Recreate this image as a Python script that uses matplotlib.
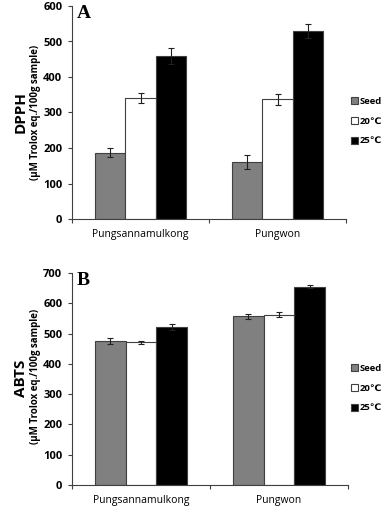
import matplotlib
matplotlib.use("Agg")
import matplotlib.pyplot as plt
from matplotlib.patches import Patch

plt.rcParams['font.family'] = ['Open Sans', 'DejaVu Sans']

categories = ["Pungsannamulkong", "Pungwon"]
series = ["Seed", "20\u2103", "25\u2103"]
colors = ["#808080", "#ffffff", "#000000"]

dpph = {"Seed": [187, 160], "20\u2103": [340, 337], "25\u2103": [460, 530]}
dpph_err = {"Seed": [13, 20], "20\u2103": [14, 15], "25\u2103": [22, 20]}
abts = {"Seed": [475, 557], "20\u2103": [472, 562], "25\u2103": [522, 655]}
abts_err = {"Seed": [11, 9], "20\u2103": [5, 8], "25\u2103": [9, 5]}

W, H = 387, 508
fig = plt.figure(figsize=(W / 100, H / 100), dpi=100)

def ax_rect(l, r, t, b):
    return [l / W, 1 - b / H, (r - l) / W, (b - t) / H]

panels = [
    dict(rect=ax_rect(72, 346, 6, 219), data=dpph, err=dpph_err, ylim=600, step=100,
         letter="A", name="DPPH", name_y=112, sub_y=112, leg_y=121),
    dict(rect=ax_rect(72, 348, 273, 485), data=abts, err=abts_err, ylim=700, step=100,
         letter="B", name="ABTS", name_y=378, sub_y=376, leg_y=388),
]

bw = 0.222
offsets = [-bw, 0, bw]
for p in panels:
    ax = fig.add_axes(p["rect"])
    for i, s in enumerate(series):
        xs = [k + offsets[i] for k in range(len(categories))]
        ax.bar(xs, p["data"][s], width=bw, color=colors[i], edgecolor="#404040",
               linewidth=0.8, yerr=p["err"][s], capsize=2.5,
               error_kw=dict(ecolor="#202020", elinewidth=0.8, capthick=0.8),
               label=s, zorder=2)
    ax.set_xlim(-0.5, 1.5)
    ax.set_ylim(0, p["ylim"])
    ax.set_yticks(range(0, p["ylim"] + 1, p["step"]))
    ax.set_xticks([-0.5, 0.5, 1.5])
    ax.set_xticklabels([])
    ax.tick_params(axis='x', direction='out', length=3, width=0.8, color="#404040")
    ax.tick_params(axis='y', direction='out', length=3, width=0.8, color="#404040",
                   labelsize=8, pad=4)
    for lab in ax.get_yticklabels():
        lab.set_fontweight('bold')
    for k, c in enumerate(categories):
        ax.text(k, -0.075 * p["ylim"], c, ha='center', va='center', fontsize=7.5)
    for sp in ["top", "right"]:
        ax.spines[sp].set_visible(False)
    for sp in ["left", "bottom"]:
        ax.spines[sp].set_color("#404040")
        ax.spines[sp].set_linewidth(0.8)
    ax.text(0.018, 1.005, p["letter"], transform=ax.transAxes, fontsize=14,
            fontweight='bold', family='Liberation Serif', va='top', ha='left')
    fig.text(21 / W, 1 - p["name_y"] / H, p["name"], rotation=90, fontsize=11,
             fontweight='bold', ha='center', va='center')
    fig.text(36 / W, 1 - p["sub_y"] / H, "(\u03bcM Trolox eq./100g sample)", rotation=90,
             fontsize=7, fontweight='bold', ha='center', va='center')
    handles = [Patch(facecolor=colors[i], edgecolor="#404040", linewidth=0.8, label=s)
               for i, s in enumerate(series)]
    leg = fig.legend(handles=handles, loc='center left',
                     bbox_to_anchor=(351 / W, 1 - p["leg_y"] / H),
                     frameon=False, fontsize=6.8, handlelength=0.75, handleheight=0.75,
                     handletextpad=0.15, labelspacing=1.15, borderpad=0, borderaxespad=0)
    for t in leg.get_texts():
        t.set_fontweight('bold')

fig.savefig("out.png", dpi=100)
